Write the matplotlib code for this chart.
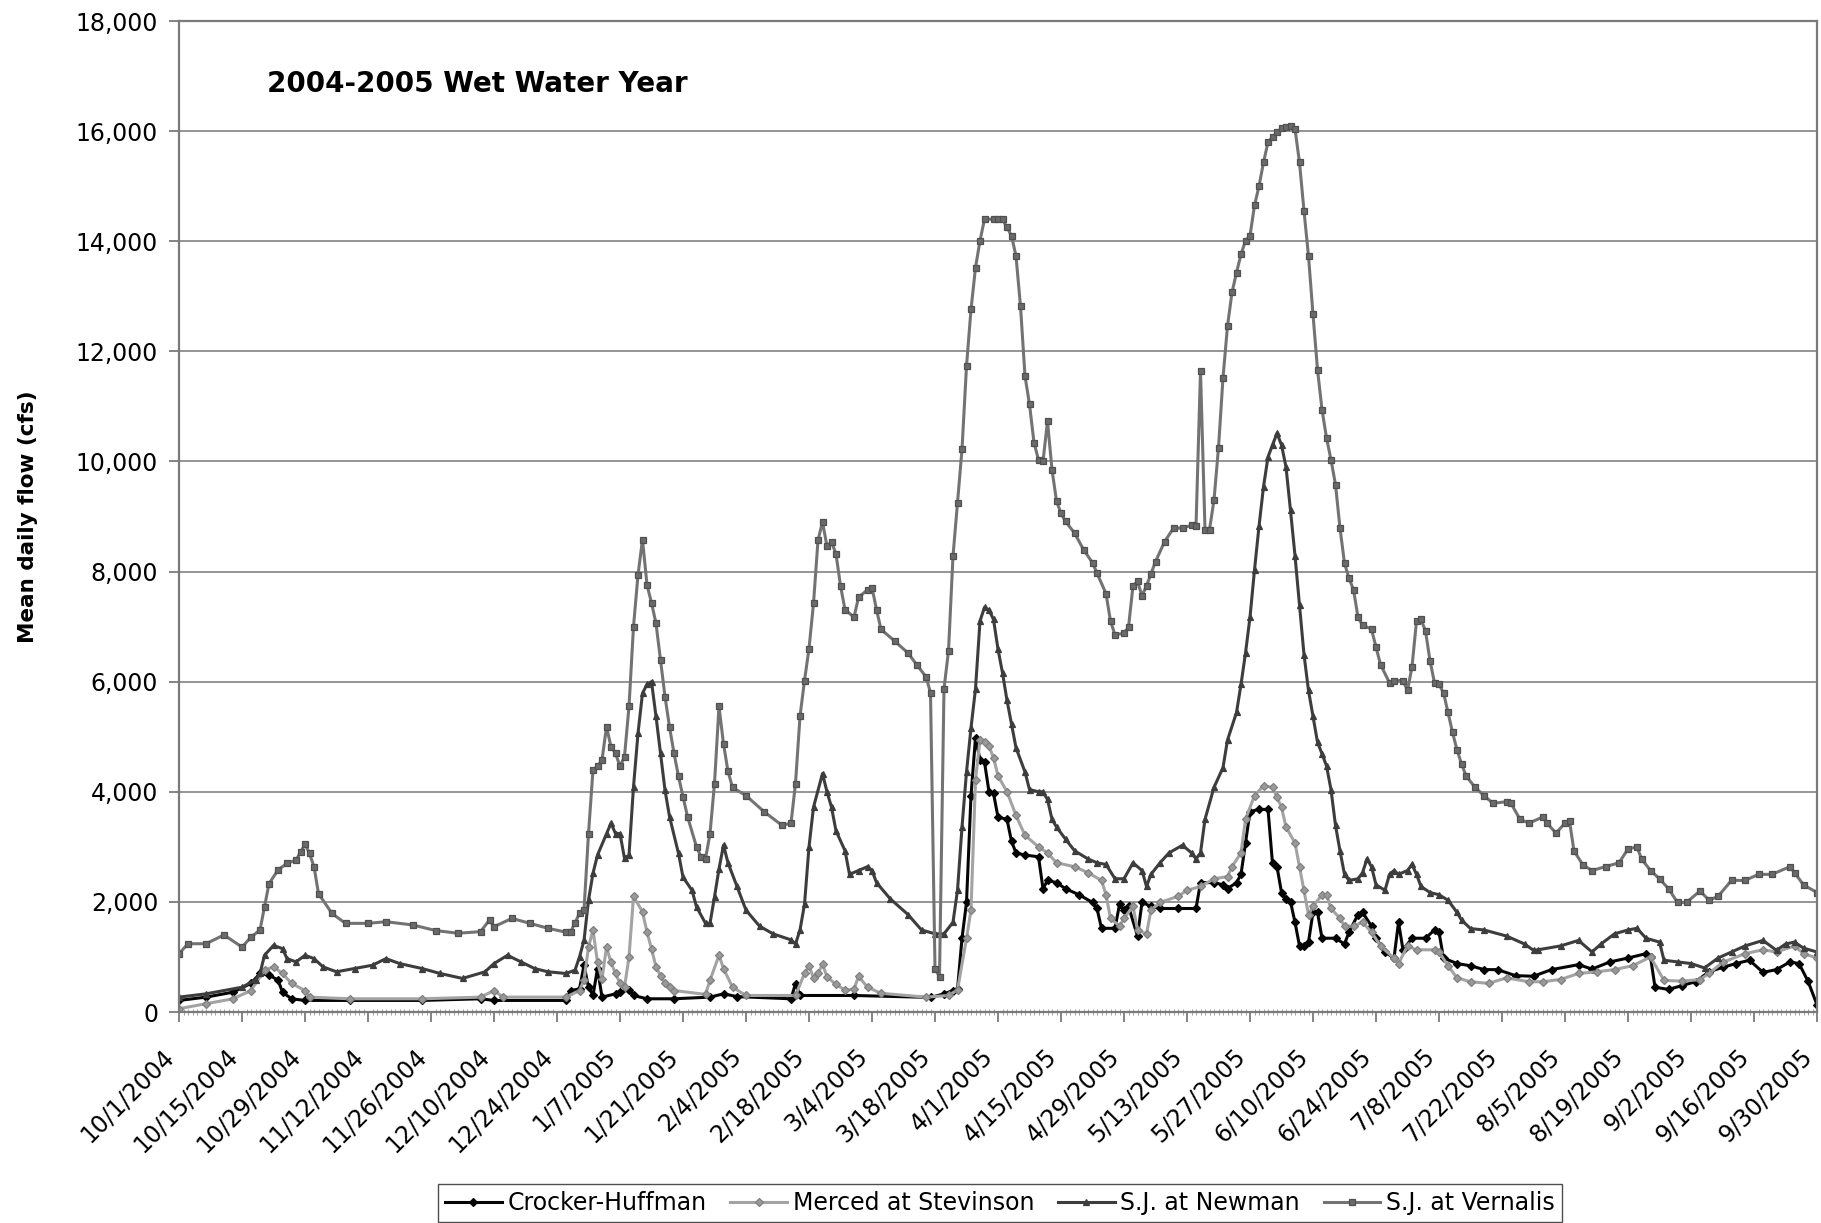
import numpy as np
import matplotlib
matplotlib.use("Agg")
import matplotlib.pyplot as plt

# ---------------- data (day offset from 10/1/2004, mean daily flow cfs) ----------------
series_names = ["Crocker-Huffman", "Merced at Stevinson", "S.J. at Newman", "S.J. at Vernalis"]

crocker_day = [0, 6, 12, 16, 18, 20, 22, 23, 25, 28, 38, 54, 67, 70, 86, 87, 89, 90, 91, 92, 93, 94,
               97, 98, 100, 101, 104, 110, 118, 121, 124, 136, 137, 138, 150, 167, 170, 172, 173, 174,
               175, 176, 177, 178, 179, 180, 181, 182, 184, 185, 186, 188, 191, 192, 193, 195, 197,
               200, 203, 204, 205, 208, 209, 210, 211, 213, 214, 216, 218, 222, 226, 227, 230, 232,
               233, 235, 236, 237, 238, 240, 242, 243, 244, 245, 246, 247, 248, 249, 250, 251, 252,
               253, 254, 257, 259, 260, 262, 263, 265, 266, 268, 270, 271, 272, 274, 277, 279, 280,
               281, 284, 287, 290, 293, 297, 301, 305, 311, 314, 318, 322, 326, 327, 328, 331, 334,
               337, 340, 343, 346, 349, 352, 355, 358, 360, 362, 364]
crocker_cfs = [210, 270, 360, 520, 700, 670, 580, 360, 240, 210, 210, 210, 240, 210, 210, 390, 420,
               850, 450, 300, 790, 270, 330, 360, 400, 300, 240, 240, 270, 330, 280, 240, 515, 300,
               300, 265, 330, 390, 410, 1340, 1990, 3930, 4980, 4580, 4540, 4000, 3970, 3540, 3500,
               3100, 2890, 2850, 2820, 2240, 2390, 2350, 2240, 2130, 1990, 1880, 1520, 1520, 1955,
               1850, 1920, 1380, 1990, 1920, 1880, 1880, 1880, 2350, 2350, 2310, 2240, 2350, 2500,
               3070, 3640, 3680, 3680, 2700, 2640, 2170, 2060, 2000, 1630, 1200, 1200, 1270, 1810,
               1810, 1340, 1340, 1235, 1450, 1770, 1810, 1560, 1340, 1090, 980, 1630, 1130, 1340,
               1340, 1490, 1450, 980, 880, 840, 770, 770, 660, 650, 770, 860, 780, 910, 980, 1060,
               1000, 450, 410, 480, 550, 730, 810, 880, 940, 720, 770, 910, 880, 560, 130]

merced_day = [0, 6, 12, 16, 19, 21, 23, 25, 28, 29, 38, 54, 67, 70, 72, 86, 89, 90, 91, 92, 93, 94,
              95, 96, 97, 98, 99, 100, 101, 103, 104, 105, 106, 107, 108, 109, 110, 117, 118, 120,
              121, 123, 126, 137, 139, 140, 141, 142, 143, 144, 146, 148, 150, 151, 153, 156, 166,
              171, 173, 175, 176, 177, 178, 179, 180, 181, 182, 184, 186, 188, 191, 193, 195, 199,
              202, 205, 206, 207, 209, 210, 212, 213, 215, 216, 218, 222, 224, 227, 230, 233, 234,
              236, 237, 239, 241, 243, 244, 245, 246, 248, 249, 250, 251, 252, 254, 255, 256, 258,
              259, 261, 263, 265, 267, 270, 271, 273, 275, 279, 280, 282, 284, 287, 291, 295, 300,
              303, 307, 311, 315, 319, 323, 327, 330, 334, 338, 340, 343, 348, 352, 355, 359, 361,
              364]
merced_cfs = [60, 150, 240, 390, 760, 820, 700, 520, 390, 270, 240, 240, 270, 390, 270, 270, 390,
              580, 1180, 1490, 900, 600, 1180, 900, 700, 520, 450, 1000, 2100, 1820, 1450, 1150, 820,
              660, 520, 450, 390, 320, 575, 1030, 790, 450, 300, 300, 700, 840, 620, 700, 870, 640,
              500, 400, 410, 650, 450, 340, 270, 300, 400, 1340, 1850, 4220, 4940, 4900, 4830, 4620,
              4290, 4000, 3570, 3210, 3000, 2890, 2710, 2640, 2530, 2390, 2130, 1700, 1560, 1700,
              1920, 1490, 1420, 1850, 1990, 2100, 2210, 2280, 2420, 2460, 2640, 2890, 3500, 3930,
              4110, 4080, 3900, 3720, 3360, 3070, 2640, 2210, 1770, 1920, 2130, 2130, 1880, 1700,
              1560, 1560, 1630, 1450, 1200, 980, 880, 1200, 1130, 1130, 1090, 840, 620, 550, 520,
              620, 550, 550, 590, 700, 730, 770, 840, 1000, 575, 560, 590, 700, 900, 1060, 1130,
              1090, 1200, 1060, 980]

newman_day = [0, 6, 14, 17, 18, 19, 21, 23, 24, 26, 28, 30, 32, 35, 39, 43, 46, 49, 54, 58, 63, 68,
              70, 73, 76, 79, 82, 86, 88, 89, 90, 91, 92, 93, 95, 96, 97, 98, 99, 100, 101, 102,
              103, 104, 105, 106, 107, 108, 109, 111, 112, 114, 115, 117, 118, 119, 120, 121, 122,
              124, 126, 129, 132, 136, 137, 138, 139, 140, 141, 143, 144, 145, 146, 148, 149, 151,
              153, 154, 155, 158, 162, 165, 168, 170, 172, 173, 174, 175, 176, 177, 178, 179, 180,
              181, 182, 183, 184, 185, 186, 188, 189, 191, 192, 193, 194, 195, 197, 199, 202, 204,
              206, 208, 210, 212, 214, 215, 216, 218, 220, 223, 225, 226, 227, 228, 230, 232, 233,
              235, 236, 237, 238, 239, 240, 241, 242, 243, 244, 245, 246, 247, 248, 249, 250, 251,
              252, 253, 254, 255, 256, 257, 258, 259, 260, 262, 263, 264, 265, 266, 268, 269, 270,
              271, 273, 274, 275, 276, 278, 280, 282, 284, 285, 287, 290, 295, 299, 301, 302, 307,
              311, 314, 316, 319, 322, 324, 326, 329, 330, 333, 336, 339, 342, 345, 348, 352, 355,
              357, 359, 361, 364]
newman_cfs = [270, 330, 450, 580, 700, 1030, 1210, 1150, 970, 910, 1030, 970, 820, 730, 790, 850,
              970, 880, 790, 700, 610, 730, 880, 1030, 910, 790, 730, 700, 760, 1000, 1300, 2030,
              2520, 2850, 3240, 3430, 3240, 3240, 2790, 2850, 4090, 5060, 5790, 5950, 6000, 5370,
              4700, 4030, 3550, 2880, 2450, 2210, 1910, 1610, 1610, 2090, 2600, 3030, 2710, 2280,
              1850, 1560, 1420, 1310, 1235, 1490, 1955, 3000, 3720, 4330, 4000, 3720, 3290, 2930,
              2500, 2570, 2640, 2570, 2350, 2060, 1770, 1490, 1420, 1420, 1630, 2210, 3360, 4360,
              5160, 5870, 7100, 7350, 7300, 7130, 6590, 6160, 5660, 5230, 4800, 4360, 4040, 4000,
              4000, 3860, 3500, 3360, 3140, 2930, 2780, 2710, 2680, 2420, 2420, 2710, 2570, 2280,
              2500, 2710, 2890, 3030, 2890, 2780, 2890, 3500, 4080, 4440, 4940, 5440, 5950, 6520,
              7170, 8030, 8820, 9540, 10080, 10300, 10510, 10300, 9900, 9110, 8290, 7390, 6490,
              5840, 5370, 4900, 4690, 4470, 4040, 3390, 2925, 2500, 2390, 2420, 2530, 2780, 2640,
              2310, 2210, 2500, 2570, 2500, 2570, 2680, 2500, 2280, 2170, 2130, 2030, 1810, 1670,
              1515, 1490, 1380, 1235, 1120, 1130, 1200, 1300, 1090, 1235, 1420, 1490, 1520, 1340,
              1270, 940, 910, 880, 800, 980, 1090, 1200, 1300, 1120, 1235, 1270, 1160, 1090]

vern_day = [0, 2, 6, 10, 14, 16, 18, 19, 20, 22, 24, 26, 27, 28, 29, 30, 31, 34, 37, 42, 46, 52, 57,
            62, 67, 69, 70, 74, 78, 82, 86, 87, 88, 89, 90, 91, 92, 93, 94, 95, 96, 97, 98, 99, 100,
            101, 102, 103, 104, 105, 106, 107, 108, 109, 110, 111, 112, 113, 115, 116, 117, 118,
            119, 120, 121, 122, 123, 126, 130, 134, 136, 137, 138, 139, 140, 141, 142, 143, 144,
            145, 146, 147, 148, 150, 151, 153, 154, 155, 156, 159, 162, 164, 166, 167, 168, 169,
            170, 171, 172, 173, 174, 175, 176, 177, 178, 179, 181, 182, 183, 184, 185, 186, 187,
            188, 189, 190, 191, 192, 193, 194, 195, 196, 197, 199, 201, 203, 204, 206, 207, 208,
            210, 211, 212, 213, 214, 215, 216, 217, 219, 221, 223, 225, 226, 227, 228, 229, 230,
            231, 232, 233, 234, 235, 236, 237, 238, 239, 240, 241, 242, 243, 244, 245, 246, 247,
            248, 249, 250, 251, 252, 253, 254, 255, 256, 257, 258, 259, 260, 261, 262, 263, 265,
            266, 267, 269, 270, 272, 273, 274, 275, 276, 277, 278, 279, 280, 281, 282, 283, 284,
            285, 286, 288, 290, 292, 295, 296, 298, 300, 303, 304, 306, 308, 309, 310, 312, 314,
            317, 320, 322, 324, 325, 327, 329, 331, 333, 335, 338, 340, 342, 345, 348, 351, 354,
            358, 359, 361, 364]
vern_cfs = [1060, 1240, 1240, 1400, 1180, 1360, 1490, 1910, 2330, 2580, 2700, 2760, 2900, 3050,
            2880, 2640, 2150, 1790, 1610, 1610, 1640, 1580, 1480, 1430, 1460, 1670, 1550, 1700,
            1610, 1520, 1450, 1450, 1620, 1790, 1850, 3240, 4400, 4460, 4580, 5180, 4820, 4700,
            4460, 4640, 5550, 7000, 7940, 8580, 7760, 7430, 7060, 6400, 5730, 5180, 4700, 4280,
            3910, 3550, 3000, 2820, 2780, 3240, 4150, 5550, 4870, 4370, 4080, 3930, 3640, 3390,
            3430, 4150, 5370, 6020, 6600, 7420, 8570, 8900, 8460, 8540, 8320, 7740, 7310, 7170,
            7530, 7670, 7710, 7310, 6950, 6740, 6520, 6300, 6090, 5800, 790, 640, 5870, 6560,
            8280, 9250, 10220, 11730, 12760, 13520, 14010, 14400, 14400, 14400, 14400, 14250,
            14100, 13730, 12820, 11550, 11040, 10340, 10030, 10000, 10730, 9850, 9280, 9060, 8910,
            8700, 8400, 8160, 7970, 7600, 7100, 6850, 6880, 6990, 7740, 7820, 7560, 7740, 7960,
            8180, 8540, 8790, 8790, 8840, 8820, 11640, 8760, 8760, 9300, 10250, 11520, 12460,
            13070, 13430, 13760, 14010, 14100, 14650, 15000, 15430, 15800, 15890, 15980, 16050,
            16070, 16100, 16040, 15430, 14550, 13730, 12670, 11670, 10940, 10430, 10030, 9580,
            8790, 8150, 7880, 7670, 7170, 7030, 6950, 6630, 6310, 5980, 6020, 6020, 5840, 6270,
            7100, 7130, 6920, 6380, 5980, 5950, 5800, 5440, 5080, 4760, 4510, 4290, 4080, 3930,
            3790, 3820, 3790, 3500, 3430, 3540, 3430, 3250, 3430, 3470, 2925, 2670, 2570, 2640,
            2710, 2960, 3000, 2780, 2570, 2420, 2240, 1990, 1990, 2200, 2030, 2100, 2390, 2390,
            2500, 2500, 2640, 2530, 2310, 2170]

tick_labels = ["10/1/2004", "10/15/2004", "10/29/2004", "11/12/2004", "11/26/2004", "12/10/2004",
               "12/24/2004", "1/7/2005", "1/21/2005", "2/4/2005", "2/18/2005", "3/4/2005",
               "3/18/2005", "4/1/2005", "4/15/2005", "4/29/2005", "5/13/2005", "5/27/2005",
               "6/10/2005", "6/24/2005", "7/8/2005", "7/22/2005", "8/5/2005", "8/19/2005",
               "9/2/2005", "9/16/2005", "9/30/2005"]
y_ticks = [0, 2000, 4000, 6000, 8000, 10000, 12000, 14000, 16000, 18000]
y_tick_labels = ["0", "2,000", "4,000", "6,000", "8,000", "10,000", "12,000", "14,000", "16,000", "18,000"]

title_text = "2004-2005 Wet Water Year"
y_label = "Mean daily flow (cfs)"

# ---------------- drawing ----------------
plt.rcParams['font.family'] = ['DejaVu Sans']
start = np.datetime64('2004-10-01')

def to_dates(days):
    return start + np.array(days).astype('timedelta64[D]')

fig = plt.figure(figsize=(18.21, 12.23), dpi=100)
ax = fig.add_axes([179/1821, 1 - 1012/1223, (1817 - 179)/1821, (1012 - 21)/1223])

styles = [
    dict(color='#050505', marker='D', ms=4.5, lw=2.2, mfc='#050505', mec='#050505'),
    dict(color='#a3a3a3', marker='D', ms=4.5, lw=2.2, mfc='#999999', mec='#808080'),
    dict(color='#3d3d3d', marker='^', ms=5.0, lw=2.2, mfc='#3d3d3d', mec='#3d3d3d'),
    dict(color='#737373', marker='s', ms=5.0, lw=2.2, mfc='#6a6a6a', mec='#505050'),
]
data = [(crocker_day, crocker_cfs), (merced_day, merced_cfs),
        (newman_day, newman_cfs), (vern_day, vern_cfs)]
for (d, v), name, st in zip(data, series_names, styles):
    ax.plot(to_dates(d), v, label=name, mew=0.9, **st)

tick_pos = start + np.arange(len(tick_labels)) * np.timedelta64(14, 'D')
ax.set_xlim(start, start + np.timedelta64(364, 'D'))
ax.set_ylim(0, 18000)
ax.set_xticks(tick_pos)
ax.set_xticklabels(tick_labels, rotation=45, ha='right', fontsize=17)
ax.set_xticks(start + np.arange(365) * np.timedelta64(1, 'D'), minor=True)
ax.set_yticks(y_ticks)
ax.set_yticklabels(y_tick_labels, fontsize=17)

ax.tick_params(axis='x', which='major', direction='out', length=7, width=1.2,
               color='#707070', pad=16)
ax.tick_params(axis='x', which='minor', direction='inout', length=4, width=0.6,
               color='#909090')
ax.tick_params(axis='y', which='major', direction='out', length=7, width=1.2,
               color='#707070', pad=8)

ax.yaxis.grid(True, color='#8c8c8c', lw=1.3)
ax.set_axisbelow(True)
for s in ax.spines.values():
    s.set_color('#7a7a7a')
    s.set_linewidth(1.6)

ax.text(267/1821, 1 - 70/1223, title_text, transform=fig.transFigure, fontsize=20,
        fontweight='bold', ha='left', va='top')
fig.text(28/1821, 1 - 517/1223, y_label, rotation=90, fontsize=15.5, fontweight='bold',
         ha='center', va='center')

leg = fig.legend(loc='center', bbox_to_anchor=(1000/1821, 1 - 1203/1223), ncol=4,
                 fontsize=17, frameon=True, fancybox=False, handlelength=2.4,
                 handletextpad=0.25, columnspacing=1.0, borderpad=0.3, borderaxespad=0)
leg.get_frame().set_edgecolor('#222222')
leg.get_frame().set_linewidth(1.0)

fig.savefig('out.png', dpi=100)
